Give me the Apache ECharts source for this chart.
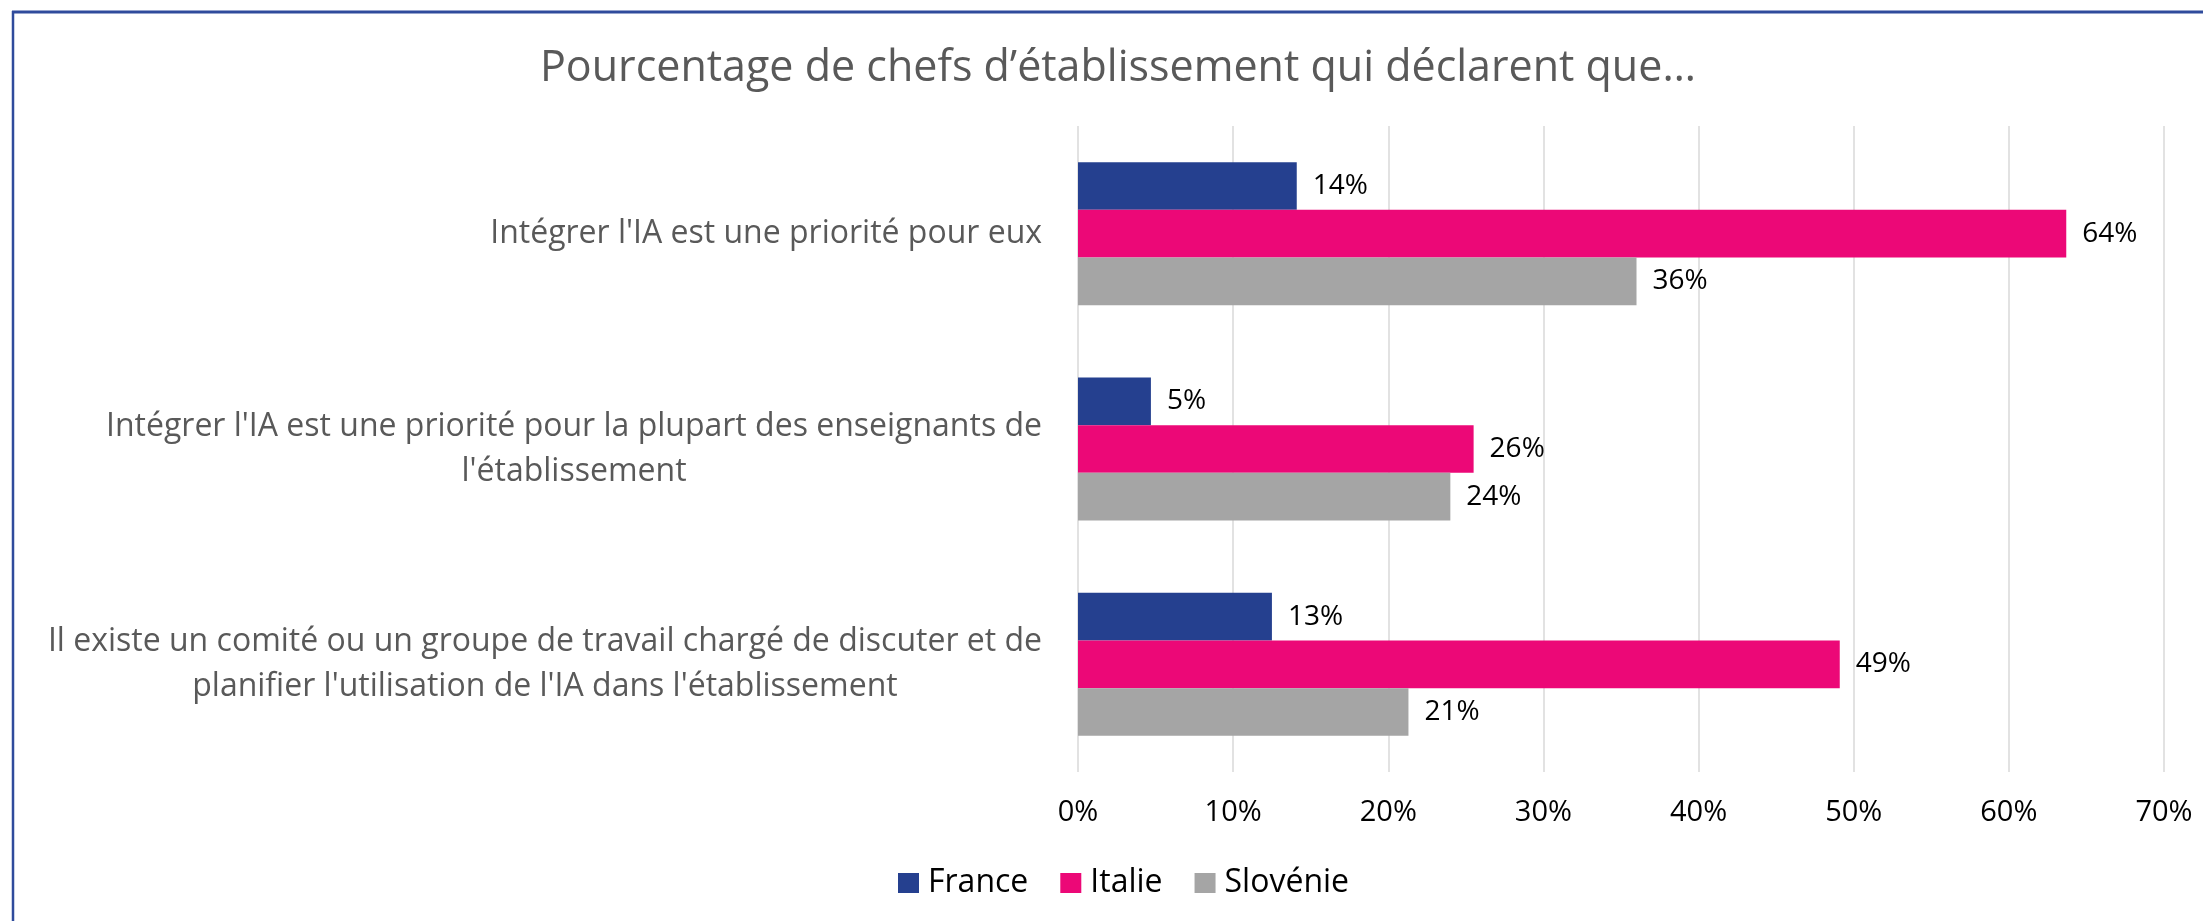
<!DOCTYPE html>
<html>
<head>
<meta charset="utf-8">
<script src="https://cdn.jsdelivr.net/npm/echarts@6/dist/echarts.min.js"></script>
<style>
html, body { margin: 0; padding: 0; background: #fff; }
#chart { width: 2203px; height: 921px; }
</style>
</head>
<body>
<div id="chart"></div>
<script>
// categories (top to bottom), with Excel-style line breaks
var categories = [
    "Intégrer l'IA est une priorité pour eux",
    "Intégrer l'IA est une priorité pour la plupart des enseignants de\nl'établissement",
    "Il existe un comité ou un groupe de travail chargé de discuter et de\nplanifier l'utilisation de l'IA dans l'établissement"
];
var seriesNames = ['France', 'Italie', 'Slovénie'];
var france = [14.1, 4.7, 12.5];
var italie = [63.7, 25.5, 49.1];
var slovenie = [36.0, 24.0, 21.3];
var colors = ['#25408F', '#EC0877', '#A5A5A5'];

var FONT = 'Open Sans';

function barSeries(name, data, color) {
    return {
        name: name,
        type: 'bar',
        data: data,
        barGap: '0%',
        barCategoryGap: '33.6%',
        itemStyle: { color: color },
        label: {
            show: true,
            position: 'right',
            distance: 16,
            color: '#000',
            fontFamily: FONT,
            fontSize: 28,
            formatter: function (p) { return Math.round(p.value) + '%'; }
        }
    };
}

var myChart = echarts.init(document.getElementById('chart'));
myChart.setOption({
    backgroundColor: '#fff',
    animation: false,
    title: {
        text: 'Pourcentage de chefs d\u2019établissement qui déclarent que\u2026',
        left: 540,
        top: 47,
        padding: 0,
        textStyle: {
            fontFamily: FONT,
            fontSize: 43,
            fontWeight: 'normal',
            color: '#595959'
        }
    },
    legend: {
        data: seriesNames,
        left: 893,
        top: 862,
        icon: 'rect',
        itemWidth: 21,
        itemHeight: 20,
        itemGap: 32,
        textStyle: {
            fontFamily: FONT,
            fontSize: 32,
            color: '#000',
            padding: [0, 0, 0, 4]
        }
    },
    grid: {
        left: 1078,
        right: 39,
        top: 126,
        bottom: 149,
        containLabel: false
    },
    xAxis: {
        type: 'value',
        min: 0,
        max: 70,
        interval: 10,
        axisLine: { show: false },
        axisTick: { show: false },
        splitLine: { lineStyle: { color: '#D9D9D9', width: 1.5 } },
        axisLabel: {
            formatter: '{value}%',
            margin: 26,
            color: '#000',
            fontFamily: FONT,
            fontSize: 29
        }
    },
    yAxis: {
        type: 'category',
        inverse: true,
        data: categories,
        axisLine: { show: false },
        axisTick: { show: false },
        axisLabel: {
            margin: 36,
            color: '#595959',
            fontFamily: FONT,
            fontSize: 32,
            lineHeight: 45,
            formatter: function (v) {
                return v.split('\n').map(function (l) { return '{c|' + l + '}'; }).join('\n');
            },
            rich: {
                c: {
                    align: 'center',
                    color: '#595959',
                    fontFamily: FONT,
                    fontSize: 32,
                    lineHeight: 45
                }
            }
        }
    },
    graphic: [
        {
            type: 'line',
            shape: { x1: 12, y1: 12, x2: 2203, y2: 12 },
            style: { stroke: '#2F4B9C', lineWidth: 3 }
        },
        {
            type: 'line',
            shape: { x1: 13, y1: 11, x2: 13, y2: 921 },
            style: { stroke: '#2F4B9C', lineWidth: 2.5 }
        }
    ],
    series: [
        barSeries(seriesNames[0], france, colors[0]),
        barSeries(seriesNames[1], italie, colors[1]),
        barSeries(seriesNames[2], slovenie, colors[2])
    ]
});
</script>
</body>
</html>
